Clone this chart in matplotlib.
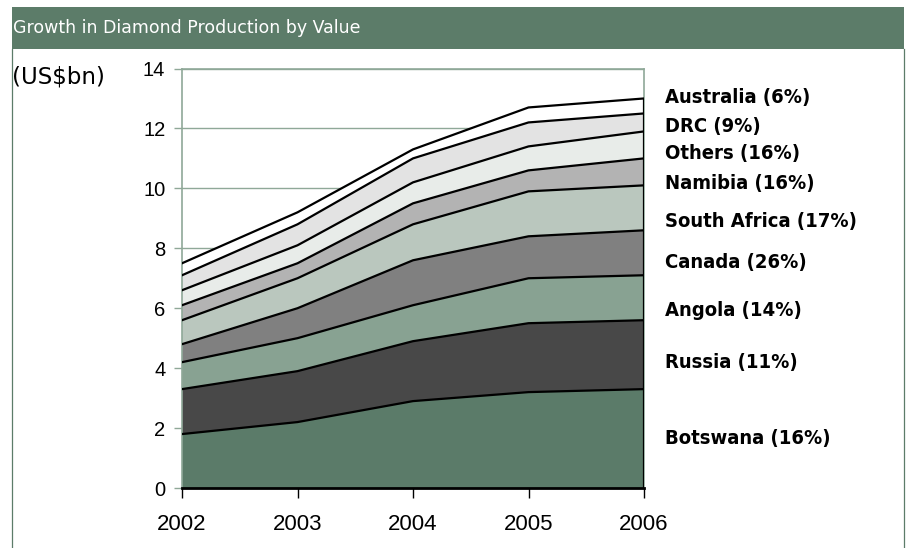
"""Stacked area chart: growth in diamond production by value, 2002-2006."""

import matplotlib.pyplot as plt
from matplotlib.lines import Line2D
from matplotlib.patches import Rectangle


FIG_W, FIG_H = 911, 548
HEADER_GREEN = "#5c7c69"
GRID_GREEN = "#8fa898"

years = [2002, 2003, 2004, 2005, 2006]

# Producers from the bottom of the stack upwards (US$bn per year)
countries = [
    "Botswana", "Russia", "Angola", "Canada", "South Africa",
    "Namibia", "Others", "DRC", "Australia",
]
botswana = [1.8, 2.2, 2.9, 3.2, 3.3]
russia = [1.5, 1.7, 2.0, 2.3, 2.3]
angola = [0.9, 1.1, 1.2, 1.5, 1.5]
canada = [0.6, 1.0, 1.5, 1.4, 1.5]
south_africa = [0.8, 1.0, 1.2, 1.5, 1.5]
namibia = [0.5, 0.5, 0.7, 0.7, 0.9]
others = [0.5, 0.6, 0.7, 0.8, 0.9]
drc = [0.5, 0.7, 0.8, 0.8, 0.6]
australia = [0.4, 0.4, 0.3, 0.5, 0.5]
shares = ["16%", "11%", "14%", "26%", "17%", "16%", "16%", "9%", "6%"]

series = [botswana, russia, angola, canada, south_africa,
          namibia, others, drc, australia]
colors = ["#5b7b69", "#484848", "#88a292", "#808080", "#bac7be",
          "#b3b3b3", "#e8ece9", "#e3e3e3", "#ffffff"]

# Label placement on the right, in data units (text layout only)
label_y = [1.64, 4.18, 5.91, 7.52, 8.89, 10.16, 11.16, 12.06, 13.03]


def px_x(x):
    return x / FIG_W


def px_y(y):
    return 1 - y / FIG_H


def main() -> None:
    fig = plt.figure(figsize=(FIG_W / 100, FIG_H / 100), dpi=100)

    # Header band and thin frame
    fig.add_artist(Rectangle((px_x(12), px_y(49)), px_x(904) - px_x(12),
                             px_y(7) - px_y(49), transform=fig.transFigure,
                             facecolor=HEADER_GREEN, edgecolor="none"))
    for x in (12, 904):
        fig.add_artist(Line2D([px_x(x), px_x(x)], [px_y(49), 0],
                              transform=fig.transFigure,
                              color=HEADER_GREEN, linewidth=0.9))
    fig.text(px_x(13), px_y(28), "Growth in Diamond Production by Value",
             color="white", fontsize=12.5, va="center", ha="left",
             family="DejaVu Sans")
    fig.text(px_x(12), px_y(77), "(US$bn)", fontsize=16.5, va="center",
             ha="left", family="DejaVu Sans")

    ax = fig.add_axes([px_x(182), px_y(488), (644 - 182) / FIG_W,
                       (488 - 68.5) / FIG_H])

    bottom = [0.0] * len(years)
    for values, color in zip(series, colors):
        top = [b + v for b, v in zip(bottom, values)]
        ax.fill_between(years, bottom, top, facecolor=color,
                        edgecolor="none", zorder=2)
        ax.plot(years, top, color="black", linewidth=1.6, zorder=3)
        bottom = top
    ax.plot(years, [0] * len(years), color="black", linewidth=2, zorder=3,
            clip_on=False)
    ax.vlines(years[-1], 0, bottom[-1], color="black", linewidth=1.6,
              zorder=3)

    ax.set_xlim(years[0], years[-1])
    ax.set_ylim(0, 14)
    ax.set_yticks(range(0, 15, 2))
    ax.set_xticks(years)
    ax.yaxis.grid(True, color=GRID_GREEN, linewidth=1.0, zorder=1)
    ax.set_axisbelow(True)

    for side in ("left", "top", "right"):
        ax.spines[side].set_color(GRID_GREEN)
        ax.spines[side].set_linewidth(1.2)
    ax.spines["bottom"].set_visible(False)

    ax.tick_params(axis="y", direction="out", length=6, width=1,
                   color=GRID_GREEN, pad=6, labelsize=14.5)
    ax.tick_params(axis="x", direction="out", length=7, width=1,
                   color="black", pad=12, labelsize=16)
    for label in ax.get_xticklabels() + ax.get_yticklabels():
        label.set_family("Liberation Sans")

    for name, share, y in zip(countries, shares, label_y):
        ax.text(1.045, y, f"{name} ({share})",
                transform=ax.get_yaxis_transform(), fontsize=14.5,
                fontweight="bold", family="DejaVu Sans",
                fontstretch="condensed", va="center", ha="left")

    fig.savefig("out.png", dpi=100)
    plt.close(fig)


if __name__ == "__main__":
    main()
